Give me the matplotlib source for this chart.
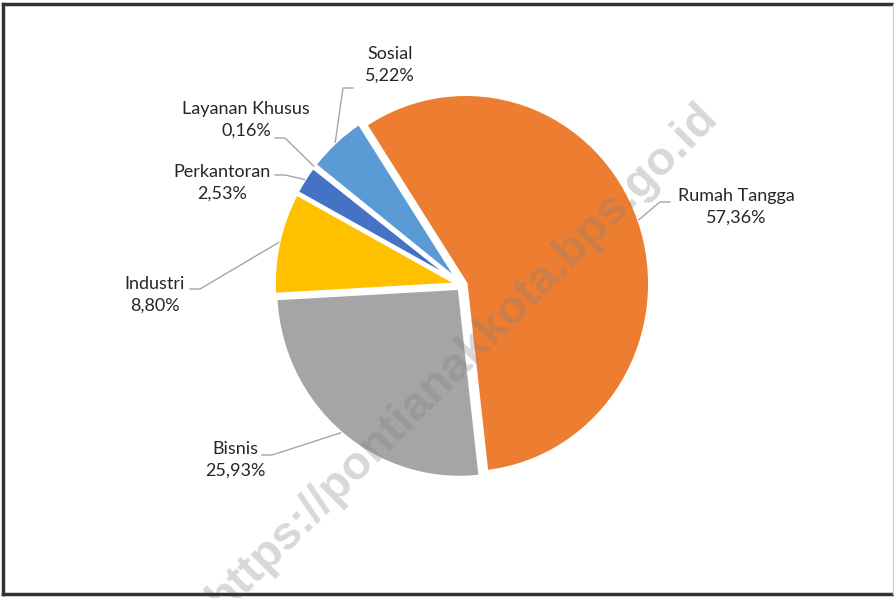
import numpy as np
import matplotlib.pyplot as plt

# data
labels = ['Rumah Tangga', 'Bisnis', 'Industri', 'Perkantoran', 'Layanan Khusus', 'Sosial']
values = [57.36, 25.93, 8.80, 2.53, 0.16, 5.22]
pct_text = ['57,36%', '25,93%', '8,80%', '2,53%', '0,16%', '5,22%']
colors = ['#ED7D31', '#A5A5A5', '#FFC000', '#4472C4', '#70AD47', '#5B9BD5']

W, H = 895, 598
YS = 1.029  # pie in the source is a bit taller than wide

# label layout (pixel coords, y from top): text centre, elbow start, elbow direction
text_xy = [(736, 207), (235, 460), (155, 295), (222, 183), (246, 120), (390, 65)]
elbow_xy = [(670, 202), (262, 455), (190, 289), (275, 175), (275, 138), (353, 88)]
elbow_dir = [-1, 1, 1, 1, 1, -1]


def py(y):
    # pixel row -> data y
    return (H - y) / YS


plt.rcParams['font.family'] = ['Lato', 'DejaVu Sans']

fig = plt.figure(figsize=(W / 100, H / 100), dpi=100)
ax = fig.add_axes([0, 0, 1, 1])

cx, cy, r = 462, py(285), 184
wedges, _ = ax.pie(values, colors=colors, startangle=123, counterclock=False,
                   center=(cx, cy), radius=r, explode=[4] * len(values),
                   wedgeprops=dict(edgecolor='white', linewidth=2.5), frame=True)
ax.set_xlim(0, W)
ax.set_ylim(0, H / YS)
ax.set_aspect('auto')
ax.axis('off')

for i, w in enumerate(wedges):
    mid = np.deg2rad((w.theta1 + w.theta2) / 2)
    ex = w.center[0] + w.r * np.cos(mid)
    ey = w.center[1] + w.r * np.sin(mid)
    x0, y0 = elbow_xy[i][0], py(elbow_xy[i][1])
    x1 = x0 + 10 * elbow_dir[i]
    ax.plot([x0, x1, ex], [y0, y0, ey], color='#A6A6A6', lw=1, zorder=3)
    tx, ty = text_xy[i]
    ax.text(tx, py(ty), labels[i] + '\n' + pct_text[i], ha='center', va='center',
            fontsize=13, color='#262626', linespacing=1.45, zorder=4)

# watermark
ax.text(463, py(358), 'https://pontianakkota.bps.go.id', rotation=45,
        rotation_mode='anchor', ha='center', va='center', fontsize=34,
        fontweight='bold', family='Liberation Sans', color='#7F7F7F',
        alpha=0.3, zorder=5)

# frame
fig.add_artist(plt.Line2D([0.003, 0.999], [1 - 4 / H, 1 - 4 / H], transform=fig.transFigure, color='#333333', lw=2.5))
fig.add_artist(plt.Line2D([3.5 / W, 3.5 / W], [4 / H, 1 - 4 / H], transform=fig.transFigure, color='#333333', lw=2.5))
fig.add_artist(plt.Line2D([0.003, 0.999], [4 / H, 4 / H], transform=fig.transFigure, color='#333333', lw=2.5))
fig.add_artist(plt.Line2D([1 - 2 / W, 1 - 2 / W], [4 / H, 1 - 4 / H], transform=fig.transFigure, color='#CFCFCF', lw=1))

fig.savefig('out.png', dpi=100)
